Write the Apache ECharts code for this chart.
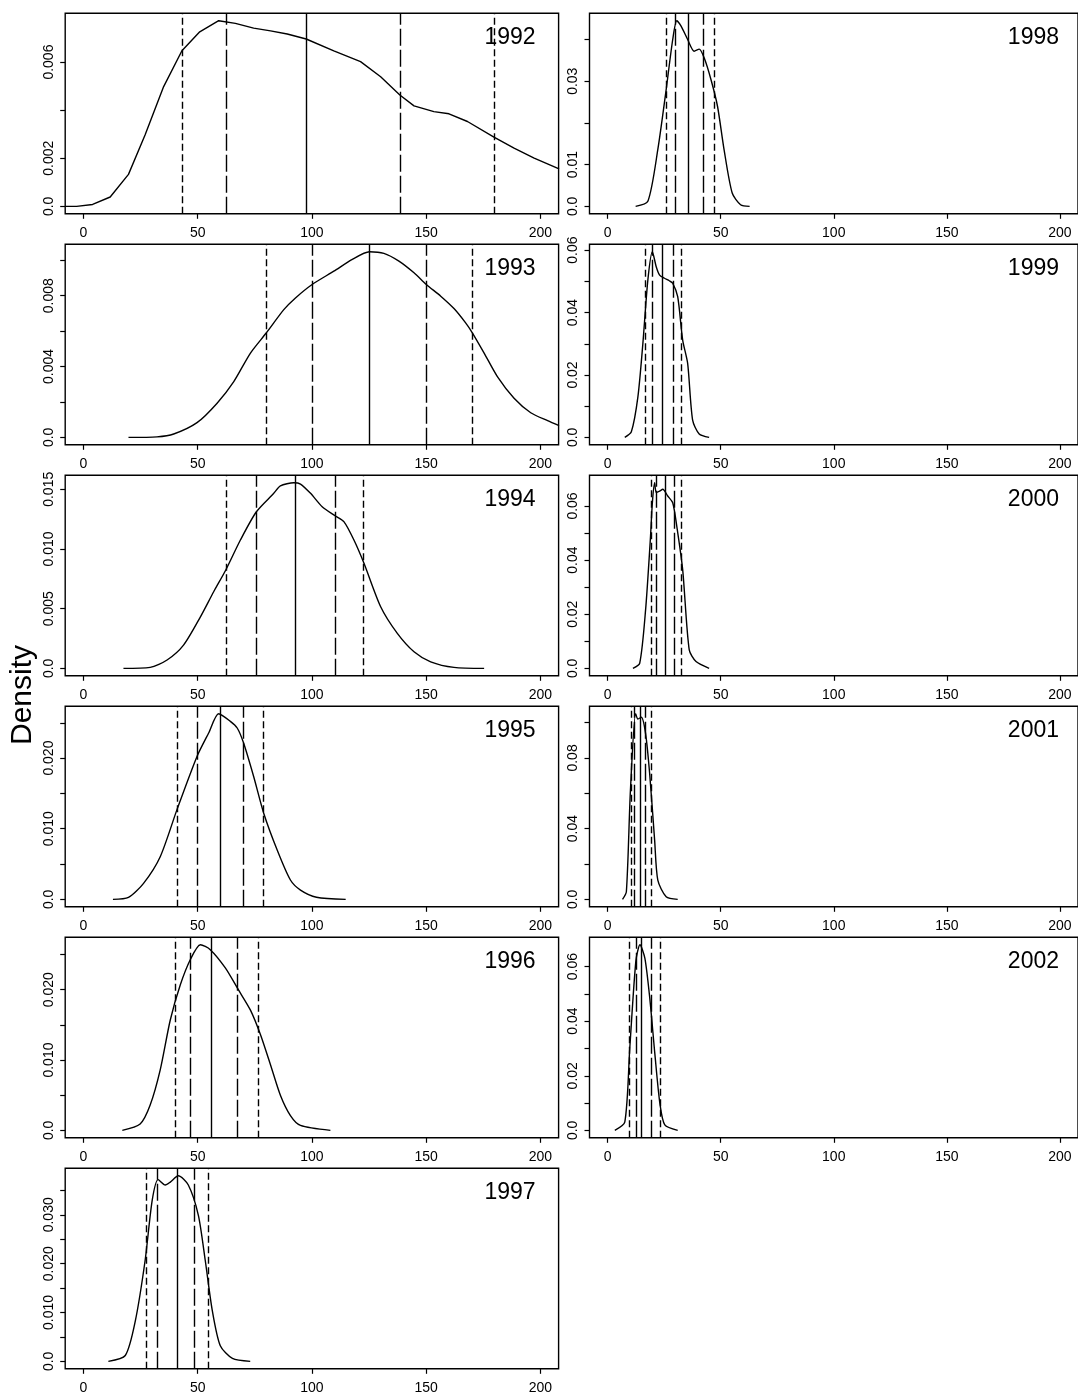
<!DOCTYPE html>
<html><head><meta charset="utf-8">
<script src="https://cdn.jsdelivr.net/npm/echarts@6/dist/echarts.min.js"></script>
<style>html,body{margin:0;padding:0;background:#fff}#c{width:1078px;height:1397px}</style>
</head><body><div id="c"></div><script>
const years = ['1992','1993','1994','1995','1996','1997','1998','1999','2000','2001','2002'];
const xTickValues = [0, 50, 100, 150, 200];

const x1992 = [-8, -3, 4, 11.7, 19.7, 27, 35.1, 43.1, 50.9, 59.2, 66.5, 74.5, 81.9, 89.2, 97.5, 109.6, 121.3, 130.1, 138.5, 144.7, 153.4, 160, 168.1, 179.7, 188.5, 197.3, 208.2];
const y1992 = [0, 0, 0.00008, 0.00039, 0.00133, 0.00298, 0.00498, 0.00647, 0.00726, 0.00772, 0.00761, 0.00741, 0.00730, 0.00717, 0.00696, 0.00647, 0.00602, 0.00539, 0.00463, 0.00418, 0.00394, 0.00385, 0.00353, 0.00288, 0.00242, 0.00201, 0.00156];
const q1992 = [43.1, 62.6, 97.5, 138.5, 179.7];

const x1993 = [19.7, 32.2, 39.5, 49.7, 58.5, 65.8, 73.1, 80.0, 87.7, 92.8, 100.1, 109.6, 117.7, 125.2, 131.5, 138.1, 144.7, 150.1, 156.4, 162.2, 167.3, 170.3, 175.4, 181.2, 188.5, 195.8, 203.2, 208.2];
const y1993 = [0, 0.00003, 0.00019, 0.00083, 0.00193, 0.00315, 0.00476, 0.00589, 0.00721, 0.00787, 0.00863, 0.00938, 0.01005, 0.01048, 0.01039, 0.00995, 0.00929, 0.00863, 0.00797, 0.00727, 0.00646, 0.00589, 0.00476, 0.00343, 0.00221, 0.00139, 0.00094, 0.00066];
const q1993 = [80.0, 100.1, 125.2, 150.1, 170.3];

const x1994 = [17.5, 29.2, 36.6, 43.8, 51.2, 57.0, 62.3, 68.7, 75.7, 83.3, 86.2, 92.1, 95, 99.4, 104.5, 110.3, 114.0, 118.4, 122.8, 130.1, 137.4, 144.7, 152.0, 162.2, 175.4];
const y1994 = [0, 0.00008, 0.0007, 0.00195, 0.00432, 0.00642, 0.00824, 0.01075, 0.01312, 0.01466, 0.01528, 0.01555, 0.01544, 0.01466, 0.01354, 0.01276, 0.01229, 0.01075, 0.00880, 0.00516, 0.00293, 0.00139, 0.00055, 0.00008, 0];
const q1994 = [62.3, 75.7, 92.9, 110.3, 122.5];

const x1995 = [12.9, 19.7, 26.3, 33.6, 40.9, 49.7, 54.8, 59.2, 64.3, 67.3, 70.1, 74.5, 78.9, 84.8, 90.6, 95, 102, 114.8];
const y1995 = [0, 0.00028, 0.00227, 0.00604, 0.01267, 0.02023, 0.02355, 0.02628, 0.02520, 0.02426, 0.02213, 0.01739, 0.01220, 0.00699, 0.00274, 0.00132, 0.0003, 0];
const q1995 = [40.9, 49.7, 59.9, 69.9, 78.5];

const x1996 = [17, 24.8, 29.2, 33.6, 38, 42.4, 46.8, 51.2, 55.5, 62.1, 67.8, 73.1, 77.5, 81.9, 86.2, 90.6, 95, 108.1];
const y1996 = [0, 0.0009, 0.0036, 0.0086, 0.0157, 0.0207, 0.0243, 0.0264, 0.0257, 0.0231, 0.0200, 0.0171, 0.0136, 0.0093, 0.0050, 0.0021, 0.0007, 0];
const q1996 = [40.2, 46.8, 56.0, 67.4, 76.6];

const x1997 = [10.9, 18.3, 22.7, 27.0, 30.1, 32.7, 35.8, 38.0, 41.5, 45.9, 50.3, 53.3, 56.4, 59.9, 65.2, 73];
const y1997 = [0, 0.0012, 0.0083, 0.0207, 0.0330, 0.0372, 0.0361, 0.0367, 0.0380, 0.0361, 0.0299, 0.0207, 0.0104, 0.0032, 0.0006, 0];
const q1997 = [27.5, 32.5, 41.0, 48.5, 54.5];

const x1998 = [12.4, 17.8, 22.2, 25.9, 28.8, 30.6, 32.5, 35.4, 38.3, 40.5, 42.7, 45.7, 48.6, 51.5, 55.1, 58.8, 62.8];
const y1998 = [0, 0.0012, 0.0136, 0.028, 0.040, 0.0445, 0.0432, 0.040, 0.0372, 0.0377, 0.0356, 0.0304, 0.024, 0.0136, 0.0032, 0.0004, 0];
const q1998 = [25.9, 29.9, 35.7, 42.3, 47.1];

const x1999 = [7.6, 10.5, 13.4, 15.6, 17.8, 19.8, 21.5, 23.0, 25.2, 27.3, 28.8, 31.0, 33.2, 35.4, 37.6, 40.5, 44.9];
const y1999 = [0, 0.0018, 0.013, 0.0301, 0.0504, 0.0595, 0.0547, 0.052, 0.051, 0.0502, 0.0494, 0.0451, 0.0312, 0.0237, 0.0055, 0.0011, 0];
const q1999 = [16.8, 19.6, 24.0, 29.1, 32.7];

const x2000 = [11.2, 14.2, 16.8, 18.9, 19.8, 20.8, 21.5, 23.0, 24.4, 26.6, 28.8, 30.6, 33.2, 36.1, 39.1, 44.9];
const y2000 = [0, 0.0019, 0.0216, 0.0476, 0.0612, 0.0686, 0.065, 0.0655, 0.0662, 0.0637, 0.0612, 0.0525, 0.0365, 0.0068, 0.0025, 0];
const q2000 = [19.3, 21.3, 25.3, 29.4, 32.6];

const x2001 = [6.6, 8.3, 10.1, 12.4, 13.4, 14.9, 16.8, 18.6, 20.8, 22.2, 25.9, 31.0];
const y2001 = [0, 0.0043, 0.0617, 0.105, 0.102, 0.103, 0.0938, 0.0712, 0.0335, 0.0109, 0.0015, 0];
const q2001 = [10.5, 12.0, 14.5, 16.8, 19.3];

const x2002 = [3.2, 7.6, 9.8, 12.5, 14.3, 16.5, 18.7, 20.9, 23.1, 25.3, 31];
const y2002 = [0, 0.003, 0.03, 0.062, 0.068, 0.063, 0.048, 0.028, 0.01, 0.002, 0];
const q2002 = [9.4, 12.5, 15.1, 19.1, 23.5];

const yTicks = {
  '1992': [0, 0.002, 0.004, 0.006],
  '1993': [0, 0.002, 0.004, 0.006, 0.008, 0.010],
  '1994': [0, 0.005, 0.010, 0.015],
  '1995': [0, 0.005, 0.010, 0.015, 0.020, 0.025],
  '1996': [0, 0.005, 0.010, 0.015, 0.020, 0.025],
  '1997': [0, 0.005, 0.010, 0.015, 0.020, 0.025, 0.030, 0.035],
  '1998': [0, 0.01, 0.02, 0.03, 0.04],
  '1999': [0, 0.01, 0.02, 0.03, 0.04, 0.05, 0.06],
  '2000': [0, 0.01, 0.02, 0.03, 0.04, 0.05, 0.06],
  '2001': [0, 0.02, 0.04, 0.06, 0.08, 0.10],
  '2002': [0, 0.01, 0.02, 0.03, 0.04, 0.05, 0.06]
};
const yLabels = {
  '1992': [0, 0.002, 0.006],
  '1993': [0, 0.004, 0.008],
  '1994': [0, 0.005, 0.010, 0.015],
  '1995': [0, 0.010, 0.020],
  '1996': [0, 0.010, 0.020],
  '1997': [0, 0.010, 0.020, 0.030],
  '1998': [0, 0.01, 0.03],
  '1999': [0, 0.02, 0.04, 0.06],
  '2000': [0, 0.02, 0.04, 0.06],
  '2001': [0, 0.04, 0.08],
  '2002': [0, 0.02, 0.04, 0.06]
};
const yDecimals = {'1992':3,'1993':3,'1994':3,'1995':3,'1996':3,'1997':3,'1998':2,'1999':2,'2000':2,'2001':2,'2002':2};

const curves = {
  '1992':[x1992,y1992,q1992], '1993':[x1993,y1993,q1993], '1994':[x1994,y1994,q1994],
  '1995':[x1995,y1995,q1995], '1996':[x1996,y1996,q1996], '1997':[x1997,y1997,q1997],
  '1998':[x1998,y1998,q1998], '1999':[x1999,y1999,q1999], '2000':[x2000,y2000,q2000],
  '2001':[x2001,y2001,q2001], '2002':[x2002,y2002,q2002]
};

const FONT = '"Liberation Sans", Arial, Helvetica, sans-serif';
const SHORT = [7, 3.5];
const LONG = [17, 4];
const qStyles = [SHORT, LONG, 'solid', LONG, SHORT];

const grids = [], xAxes = [], yAxes = [], series = [], graphics = [];
years.forEach((yr, i) => {
  const col = i < 6 ? 0 : 1;
  const row = col === 0 ? i : i - 6;
  const left = col === 0 ? 65.2 : 589.5;
  const width = col === 0 ? 493.4 : 492;
  const top = 13.3 + row * 231;
  const height = 200.5;
  grids.push({left, top, width, height, show: true, borderColor: '#000', borderWidth: 1.4, backgroundColor: 'transparent', containLabel: false});
  const [xs, ys, qs] = curves[yr];
  const ymax = Math.max(...ys), ymin = Math.min(...ys);
  const pad = 0.04 * (ymax - ymin);
  xAxes.push({
    type: 'value', gridIndex: i, min: -8, max: 208, position: 'bottom',
    axisLine: {show: false, onZero: false}, splitLine: {show: false},
    axisTick: {show: true, inside: false, length: 5, customValues: xTickValues, lineStyle: {color: '#000', width: 1.2}},
    axisLabel: {show: true, customValues: xTickValues, margin: 12, color: '#000', fontSize: 14, fontFamily: FONT, formatter: v => String(v)}
  });
  const dec = yDecimals[yr];
  yAxes.push({
    type: 'value', gridIndex: i, min: ymin - pad, max: ymax + pad, position: 'left',
    axisLine: {show: false, onZero: false}, splitLine: {show: false},
    axisTick: {show: true, inside: false, length: 5, customValues: yTicks[yr], lineStyle: {color: '#000', width: 1.2}},
    axisLabel: {show: true, customValues: yLabels[yr], rotate: 90, margin: 9, color: '#000', fontSize: 14, fontFamily: FONT,
      formatter: v => (Math.abs(v) < 1e-12 ? '0.0' : Number(v).toFixed(dec))}
  });
  series.push({
    type: 'line', xAxisIndex: i, yAxisIndex: i,
    data: xs.map((x, k) => [x, ys[k]]),
    showSymbol: false, smooth: yr === '1992' ? false : 0.25, clip: true,
    lineStyle: {color: '#000', width: 1.4}, silent: true,
    markLine: {
      silent: true, symbol: ['none', 'none'], label: {show: false},
      data: qs.map((q, k) => ({xAxis: q, lineStyle: {color: '#000', width: 1.4, type: qStyles[k]}}))
    }
  });
  graphics.push({
    type: 'text',
    x: left + width - (col === 0 ? 23 : 22.5), y: top + 24,
    style: {text: yr, fill: '#000', font: '23px ' + FONT, textAlign: 'right', textVerticalAlign: 'middle'}
  });
});
graphics.push({
  type: 'text', x: 23, y: 695, rotation: Math.PI / 2,
  style: {text: 'Density', fill: '#000', font: '30px ' + FONT, textAlign: 'center', textVerticalAlign: 'middle'}
});

const chart = echarts.init(document.getElementById('c'), null, {renderer: 'canvas'});
chart.setOption({
  animation: false, backgroundColor: '#fff',
  grid: grids, xAxis: xAxes, yAxis: yAxes, series: series, graphic: graphics
});
</script></body></html>
